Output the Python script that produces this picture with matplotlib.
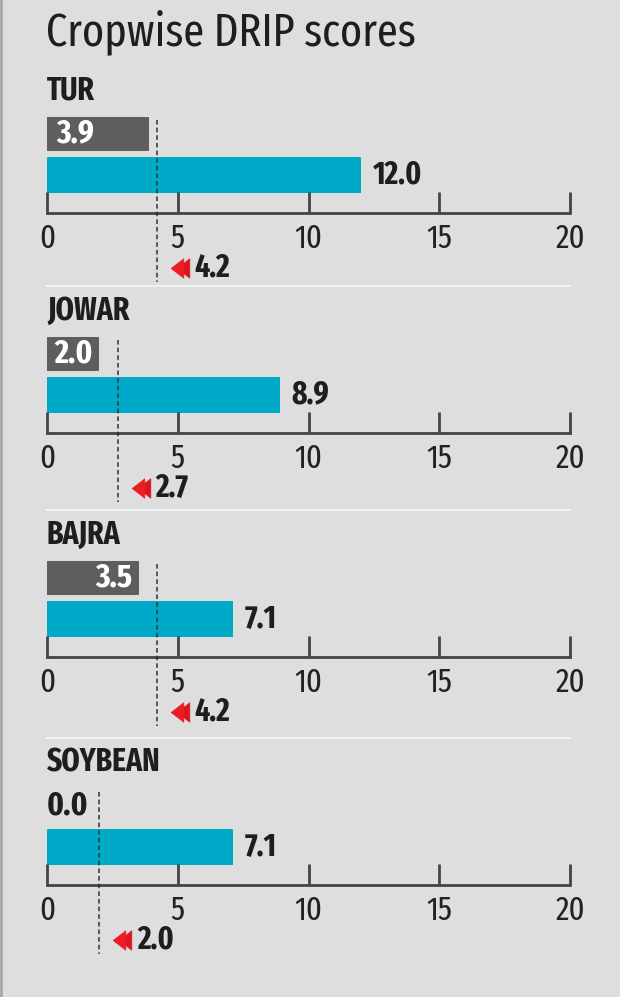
import matplotlib.pyplot as plt
from matplotlib.lines import Line2D

plt.rcParams['font.family'] = ['Fira Sans Extra Condensed', 'DejaVu Sans']

crops = ['TUR', 'JOWAR', 'BAJRA', 'SOYBEAN']
grey_vals = [3.9, 2.0, 3.5, 0.0]
blue_vals = [12.0, 8.9, 7.1, 7.1]
avg_vals = [4.2, 2.7, 4.2, 2.0]
grey_align = ['left', 'center', 'right', 'left']
ticks = [0, 5, 10, 15, 20]

BG = '#dedede'
GREY = '#5e5e5e'
BLUE = '#00a9c7'
RED = '#ec1c24'
INK = '#1e1e1e'
AXC = '#444444'

# narrow left-pointing triangle
arrow = [(-0.65, 0), (0.65, 1), (0.65, -1), (-0.65, 0)]

W, H = 620, 997
fig = plt.figure(figsize=(W / 100, H / 100), dpi=100, facecolor=BG)

fig.text(46 / W, 1 - 45 / H, 'Cropwise DRIP scores', fontsize=33,
         color='#1e1e1e', ha='left', va='baseline')

# pixel rows of each panel's axis line
axis_px = [213, 433, 657, 885]
top_off = 96          # grey bar top above axis line (px)
x0, x1 = 47, 570

for i, crop in enumerate(crops):
    bottom = 1 - axis_px[i] / H
    ax = fig.add_axes([x0 / W, bottom, (x1 - x0) / W, top_off / H])
    ax.set_xlim(0, 20)
    ax.set_ylim(0, top_off)
    ax.patch.set_visible(False)
    for s in ['top', 'right', 'left']:
        ax.spines[s].set_visible(False)
    ax.spines['bottom'].set_color(AXC)
    ax.spines['bottom'].set_linewidth(2)
    ax.set_yticks([])
    ax.set_xticks(ticks)
    ax.tick_params(axis='x', direction='in', length=15, width=2, color=AXC,
                   pad=7, labelsize=24, labelcolor='#222222')

    # bars
    ax.barh(79, grey_vals[i], height=34, color=GREY, left=0)
    ax.barh(38, blue_vals[i], height=36, color=BLUE, left=0)

    # grey bar label
    g = grey_vals[i]
    if g > 0:
        pos = {'left': 0.35, 'center': g / 2, 'right': g - 0.25}[grey_align[i]]
        ax.text(pos, 79, f'{g:.1f}', color='white', fontsize=24,
                fontweight='bold', ha=grey_align[i], va='center')
    else:
        ax.text(0, 79, f'{g:.1f}', color=INK, fontsize=24,
                fontweight='bold', ha='left', va='center')

    # blue bar label
    ax.text(blue_vals[i] + 0.45, 38, f'{blue_vals[i]:.1f}', color=INK,
            fontsize=23, fontweight='bold', ha='left', va='center')

    # average marker
    a = avg_vals[i]
    ax.plot([a, a], [93, -69], ls=(0, (3, 2)), color='#333333', lw=1.1,
            clip_on=False, zorder=5)
    ax.plot([a + 1.0], [-55], marker=arrow, ms=14, color='#d81820',
            mec='#d81820', mew=0.5, clip_on=False, ls='none')
    ax.plot([a + 0.77], [-55], marker=arrow, ms=14, color=RED, mec=RED,
            mew=0.5, clip_on=False, ls='none')
    ax.text(a + 1.45, -55, f'{a:.1f}', color=INK, fontsize=23,
            fontweight='bold', ha='left', va='center')

    # crop name
    ax.text(0, 122, crop, color=INK, fontsize=23, fontweight='bold',
            ha='left', va='center', clip_on=False)

    # separator above panel
    if i > 0:
        ax.plot([0, 20], [147, 147], color='#f2f2f2', lw=1.5, clip_on=False)

fig.add_artist(Line2D([1 / W, 1 / W], [0, 1], color='#a8a8a8', lw=2))

fig.savefig('out.png', dpi=100, facecolor=BG)
